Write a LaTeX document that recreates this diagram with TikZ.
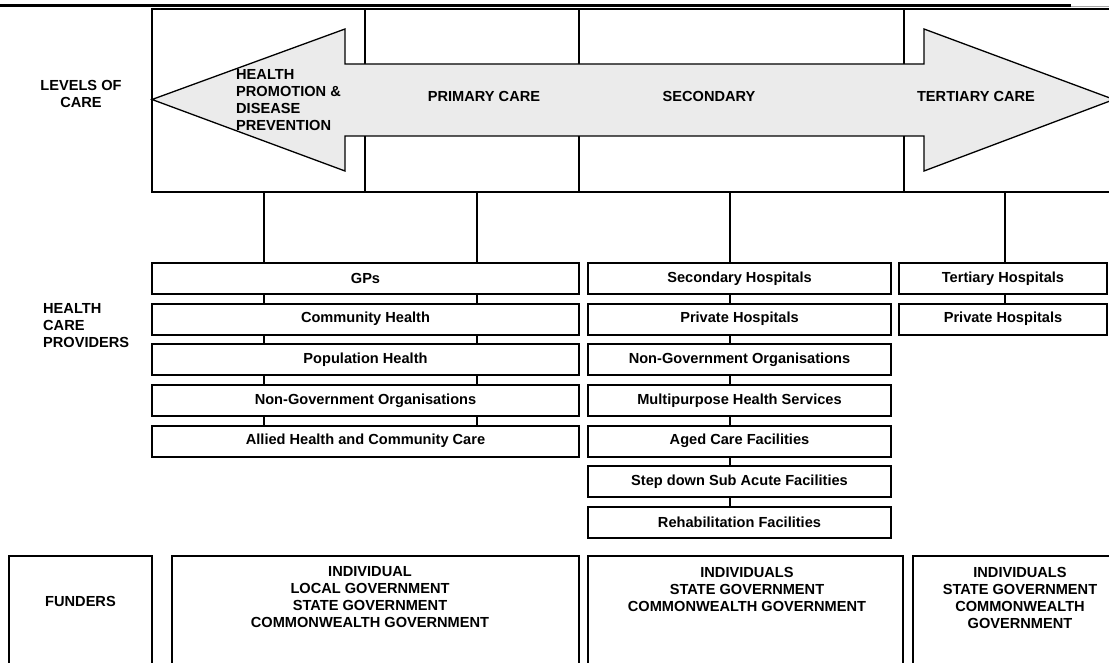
\documentclass[tikz,border=0pt]{standalone}
\usepackage{fontspec}
\setmainfont{Liberation Sans}
\tikzset{cell/.style = {draw, line width=1.3pt, rectangle, minimum height=183pt, inner sep=0pt},
         pbox/.style = {draw, fill=white, line width=2pt, rectangle, minimum height=31pt, inner sep=0pt},
         fbox/.style = {draw, line width=1.6pt, rectangle, minimum height=150pt, inner sep=0pt},
         lbl/.style  = {align=center, inner sep=0pt},
         wire/.style = {line width=1.3pt}}

\begin{document}
\begin{tikzpicture}[x=1pt,y=-1pt,font=\bfseries\fontsize{14.6}{17}\selectfont]
    \useasboundingbox(0,0)rectangle(1109,663);
    \clip(0,0)rectangle(1109,663);
    % heading rule
    \draw[line width=3pt](0,6)--(1071,6);
    \draw[black!35,line width=0.8pt](1071,6.5)--(1109,6.5);
    % levels of care
    \node[cell,minimum width=213pt](hp)at(258.5,100.5){};
    \node[cell,minimum width=214pt](pc)at(472,100.5){};
    \node[cell,minimum width=325pt](sc)at(741.5,100.5){};
    \node[cell,minimum width=220pt](tc)at(1014,100.5){};
    \draw[line width=1.3pt,fill=black!8](152,99.5)--(345,29)--(345,64)--(924,64)--(924,29)--(1114,99.5)
        --(924,171)--(924,136)--(345,136)--(345,171)--cycle;
    \node[lbl,align=left,anchor=west](hpText)at(236,100){HEALTH\\PROMOTION \&\\DISEASE\\PREVENTION};
    \node[lbl](pcText)at(484,96){PRIMARY CARE};
    \node[lbl](scText)at(709,96){SECONDARY};
    \node[lbl](tcText)at(976,96){TERTIARY CARE};
    \node[lbl](levels)at(81,93.5){LEVELS OF\\CARE};
    % health care providers
    \node[lbl,align=left,anchor=west](providers)at(43,325.5){HEALTH\\CARE\\PROVIDERS};
    \node[pbox,minimum width=427pt](gps)at(365.5,278.5){GPs};
    \node[pbox,minimum width=427pt](comh)at(365.5,319.2){Community Health};
    \node[pbox,minimum width=427pt](poph)at(365.5,359.8){Population Health};
    \node[pbox,minimum width=427pt](ngoA)at(365.5,400.5){Non-Government Organisations};
    \node[pbox,minimum width=427pt](allied)at(365.5,441.2){Allied Health and Community Care};
    \node[pbox,minimum width=303pt](sech)at(739.5,278.5){Secondary Hospitals};
    \node[pbox,minimum width=303pt](privA)at(739.5,319.2){Private Hospitals};
    \node[pbox,minimum width=303pt](ngoB)at(739.5,359.8){Non-Government Organisations};
    \node[pbox,minimum width=303pt](mphs)at(739.5,400.5){Multipurpose Health Services};
    \node[pbox,minimum width=303pt](aged)at(739.5,441.2){Aged Care Facilities};
    \node[pbox,minimum width=303pt](stepdown)at(739.5,481.8){Step down Sub Acute Facilities};
    \node[pbox,minimum width=303pt](rehab)at(739.5,522.5){Rehabilitation Facilities};
    \node[pbox,minimum width=208pt](terh)at(1003,278.5){Tertiary Hospitals};
    \node[pbox,minimum width=208pt](privB)at(1003,319.2){Private Hospitals};
    \coordinate(hpTap)at(264,192);
    \coordinate(pcTap)at(477,192);
    \coordinate(scTap)at(730,192);
    \coordinate(tcTap)at(1005,192);
    \draw[wire](hpTap)--(hpTap|-gps.north);
    \draw[wire](pcTap)--(pcTap|-gps.north);
    \draw[wire](scTap)--(scTap|-sech.north);
    \draw[wire](tcTap)--(tcTap|-terh.north);
    \draw[wire](gps.south-|hpTap)--(comh.north-|hpTap) (comh.south-|hpTap)--(poph.north-|hpTap)
        (poph.south-|hpTap)--(ngoA.north-|hpTap) (ngoA.south-|hpTap)--(allied.north-|hpTap);
    \draw[wire](gps.south-|pcTap)--(comh.north-|pcTap) (comh.south-|pcTap)--(poph.north-|pcTap)
        (poph.south-|pcTap)--(ngoA.north-|pcTap) (ngoA.south-|pcTap)--(allied.north-|pcTap);
    \draw[wire](sech.south-|scTap)--(privA.north-|scTap) (privA.south-|scTap)--(ngoB.north-|scTap)
        (ngoB.south-|scTap)--(mphs.north-|scTap) (mphs.south-|scTap)--(aged.north-|scTap)
        (aged.south-|scTap)--(stepdown.north-|scTap) (stepdown.south-|scTap)--(rehab.north-|scTap);
    \draw[wire](terh.south-|tcTap)--(privB.north-|tcTap);
    % funders
    \node[fbox,minimum width=143pt](fund)at(80.5,631){};
    \node[fbox,minimum width=407pt](fundA)at(375.5,631){};
    \node[fbox,minimum width=315pt](fundB)at(745.5,631){};
    \node[fbox,minimum width=214pt](fundC)at(1020,631){};
    \node[lbl](fundText)at(80.5,601){FUNDERS};
    \node[lbl](fundAText)at(370,597.5){INDIVIDUAL\\LOCAL GOVERNMENT\\STATE GOVERNMENT\\COMMONWEALTH GOVERNMENT};
    \node[lbl](fundBText)at(747,589.5){INDIVIDUALS\\STATE GOVERNMENT\\COMMONWEALTH GOVERNMENT};
    \node[lbl](fundCText)at(1020,597.5){INDIVIDUALS\\STATE GOVERNMENT\\COMMONWEALTH\\GOVERNMENT};
\end{tikzpicture}
\end{document}
